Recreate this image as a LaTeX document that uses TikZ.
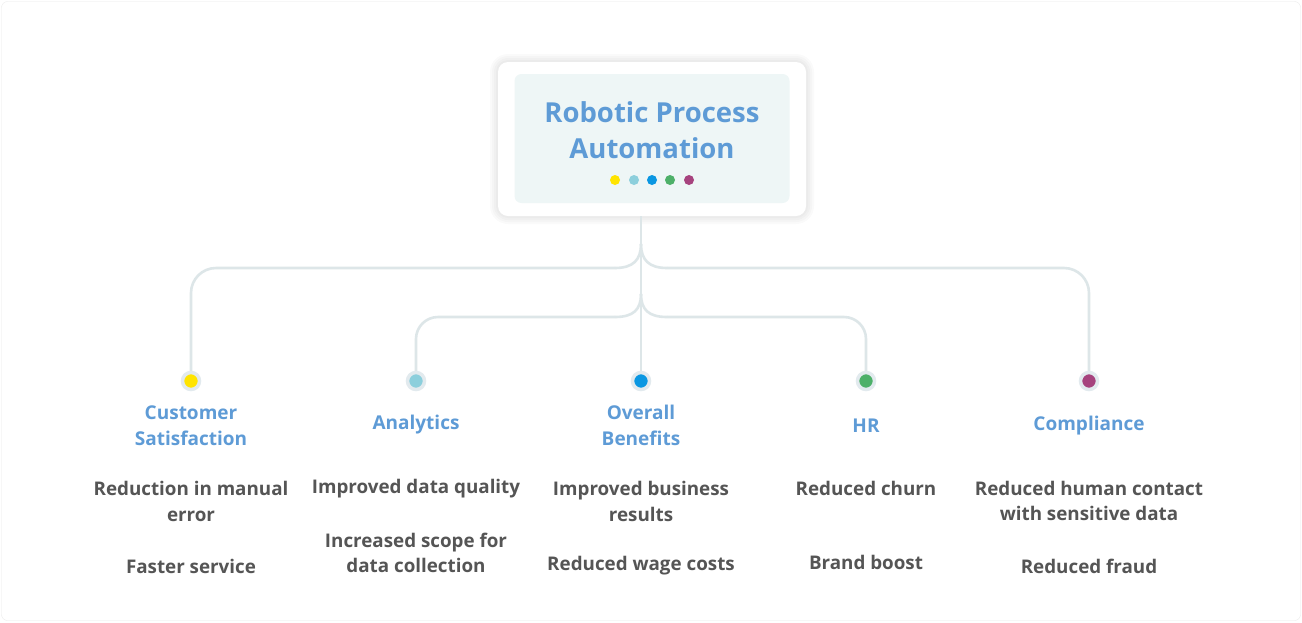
\documentclass[tikz,border=0pt]{standalone}
\usepackage{fontspec}
\setmainfont{Open Sans}
\usetikzlibrary{calc,positioning}
\definecolor{heading}{HTML}{5E9BD6}
\definecolor{itemtext}{HTML}{555555}
\definecolor{wire}{HTML}{DDE6E8}
\definecolor{ring}{HTML}{E2EAEE}
\definecolor{cardfill}{HTML}{EEF6F6}
\definecolor{dotyellow}{HTML}{FFE400}
\definecolor{dotteal}{HTML}{8CCFDC}
\definecolor{dotblue}{HTML}{0A97E2}
\definecolor{dotgreen}{HTML}{4DB069}
\definecolor{dotpurple}{HTML}{A6437E}

\tikzset{
  link/.style={draw=wire,line width=2.6pt},
  pin/.style={circle,fill=#1,draw=ring,line width=3.5pt,minimum size=17pt,inner sep=0pt},
  tinydot/.style={circle,fill=#1,minimum size=10pt,inner sep=0pt},
  haze/.style={fill=black,opacity=0.018,rounded corners=#1},
  heading/.style={text=heading,align=center,font=\bfseries\fontsize{19}{26}\selectfont},
  item/.style={text=itemtext,align=center,font=\bfseries\fontsize{18.8}{25.5}\selectfont}
}

\begin{document}
\begin{tikzpicture}[x=1pt,y=-1pt]
  \useasboundingbox (0,0) rectangle (1302,622);
  \draw[draw=black!8,fill=white,rounded corners=6pt] (1.5,1.5) rectangle (1300.5,620.5);

  % soft shadow round the card
  \foreach \g in {2,4,6,8}
    \fill[haze=10pt+\g pt] (498-\g,62-\g) rectangle (806+\g,216+\g);

  % central card
  \node[fill=white,rounded corners=10pt,minimum width=308pt,minimum height=154pt]
    (card) at (652,139) {};
  \node[fill=cardfill,rounded corners=7pt,minimum width=275pt,minimum height=129pt]
    (inner) at (652,138.5) {};
  \node[text=heading,align=center,font=\bfseries\fontsize{27.5}{36}\selectfont]
    (root) at (652,130) {Robotic Process\\Automation};
  \node[tinydot=dotyellow] (d1) at (615,180) {};
  \node[tinydot=dotteal]   (d2) at (634,180) {};
  \node[tinydot=dotblue]   (d3) at (652,180) {};
  \node[tinydot=dotgreen]  (d4) at (670,180) {};
  \node[tinydot=dotpurple] (d5) at (689,180) {};

  % category pins
  \node[pin=dotyellow] (custpin) at (191,381) {};
  \node[pin=dotteal]   (anapin)  at (416,381) {};
  \node[pin=dotblue]   (overpin) at (641,381) {};
  \node[pin=dotgreen]  (hrpin)   at (866,381) {};
  \node[pin=dotpurple] (compin)  at (1089,381) {};

  % wires
  \coordinate (top) at (641,216);
  \coordinate (forkA) at (641,244);
  \coordinate (forkB) at (641,294);
  \draw[link] (top) -- (overpin.north);
  \draw[link] (forkA) .. controls ($(forkA)+(0,16)$) and ($(forkA)+(-8,24)$) .. ($(forkA)+(-26,24)$)
    coordinate (outL);
  \draw[link] (forkA) .. controls ($(forkA)+(0,16)$) and ($(forkA)+(8,24)$) .. ($(forkA)+(26,24)$)
    coordinate (outR);
  \draw[link] (forkB) .. controls ($(forkB)+(0,16)$) and ($(forkB)+(-8,23)$) .. ($(forkB)+(-26,23)$)
    coordinate (inL);
  \draw[link] (forkB) .. controls ($(forkB)+(0,16)$) and ($(forkB)+(8,23)$) .. ($(forkB)+(26,23)$)
    coordinate (inR);
  \draw[link,rounded corners=25pt] (outL) -- (outL -| custpin) -- (custpin.north);
  \draw[link,rounded corners=25pt] (outR) -- (outR -| compin) -- (compin.north);
  \draw[link,rounded corners=22pt] (inL) -- (inL -| anapin) -- (anapin.north);
  \draw[link,rounded corners=22pt] (inR) -- (inR -| hrpin) -- (hrpin.north);

  % headings
  \node[heading] (cust) at (191,426) {Customer\\Satisfaction};
  \node[heading] (ana)  at (416,425) {Analytics};
  \node[heading] (over) at (641,425) {Overall\\Benefits};
  \node[heading] (hr)   at (866,426) {HR};
  \node[heading] (com)  at (1089,426) {Compliance};

  % benefits
  \node[item] at (191,501.5) {Reduction in manual\\error};
  \node[item] at (191,566) {Faster service};
  \node[item] at (416,489) {Improved data quality};
  \node[item] at (416,553) {Increased scope for\\data collection};
  \node[item] at (641,501.5) {Improved business\\results};
  \node[item] at (641,566) {Reduced wage costs};
  \node[item] at (866,488) {Reduced churn};
  \node[item] at (866,562) {Brand boost};
  \node[item] at (1089,501) {Reduced human contact\\with sensitive data};
  \node[item] at (1089,566) {Reduced fraud};
\end{tikzpicture}
\end{document}
